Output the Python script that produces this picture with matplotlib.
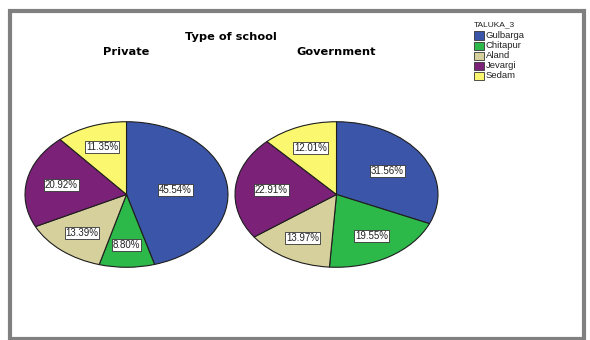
import matplotlib
matplotlib.use("Agg")
import matplotlib.pyplot as plt
from matplotlib.patches import Rectangle
import numpy as np

talukas = ["Gulbarga", "Chitapur", "Aland", "Jevargi", "Sedam"]
private_pct = [45.54, 8.80, 13.39, 20.92, 11.35]
government_pct = [31.56, 19.55, 13.97, 22.91, 12.01]
panel_titles = ["Private", "Government"]
colors = ["#3B56A8", "#2DB84A", "#D6D09C", "#7B2178", "#FBF870"]

W, H = 590, 340
fig = plt.figure(figsize=(W / 100, H / 100), dpi=100)
fig.patch.set_facecolor("white")

# outer frame
fig.patches.append(Rectangle((10 / W, 1.0 / H), (574 / W), (328.5 / H), transform=fig.transFigure,
                             fill=False, edgecolor="#808080", linewidth=3.0))

def px_axes(x0, y0, x1, y1):
    return fig.add_axes([x0 / W, (H - y1) / H, (x1 - x0) / W, (y1 - y0) / H])

boxes = [(24, 121, 229, 268), (234, 121, 439, 268)]
for (vals, title, box) in zip([private_pct, government_pct], panel_titles, boxes):
    ax = px_axes(*box)
    ax.pie(vals, colors=colors, startangle=90, counterclock=False,
           radius=1.0, wedgeprops=dict(edgecolor="#1e1e1e", linewidth=0.8))
    theta = 90.0
    for v in vals:
        span = np.deg2rad(v * 3.6)
        mid = np.deg2rad(theta) - span / 2
        theta -= v * 3.6
        r = 1.06 * 4 * np.sin(span / 2) / (3 * span)
        ax.text(r * np.cos(mid), r * np.sin(mid), f"{v:.2f}%", ha="center", va="center",
                fontsize=7.0, color="#222222", family=["Liberation Sans", "DejaVu Sans"],
                bbox=dict(boxstyle="square,pad=0.1", facecolor="white", edgecolor="#333333", linewidth=0.6))
    ax.set_xlim(-1.01, 1.01)
    ax.set_ylim(-1.01, 1.01)
    ax.set_aspect("auto")
    ax.axis("off")
    cx = (box[0] + box[2]) / 2
    fig.text(cx / W, 1 - 52 / H, title, ha="center", va="center", fontsize=8.2, fontweight="bold")

fig.text(231 / W, 1 - 37 / H, "Type of school", ha="center", va="center", fontsize=8.2, fontweight="bold")

# legend
fig.text(474 / W, 1 - 25 / H, "TALUKA_3", ha="left", va="center", fontsize=6.0, color="#222222",
         family=["Liberation Sans", "DejaVu Sans"])
for i, (name, c) in enumerate(zip(talukas, colors)):
    y = 35.5 + i * 10.1
    fig.patches.append(Rectangle((474 / W, 1 - (y + 4) / H), 10 / W, 8 / H, transform=fig.transFigure,
                                 facecolor=c, edgecolor="#333333", linewidth=0.6))
    fig.text(486 / W, 1 - y / H, name, ha="left", va="center", fontsize=6.8, color="#222222",
             family=["Liberation Sans", "DejaVu Sans"])

fig.savefig("out.png", dpi=100)
